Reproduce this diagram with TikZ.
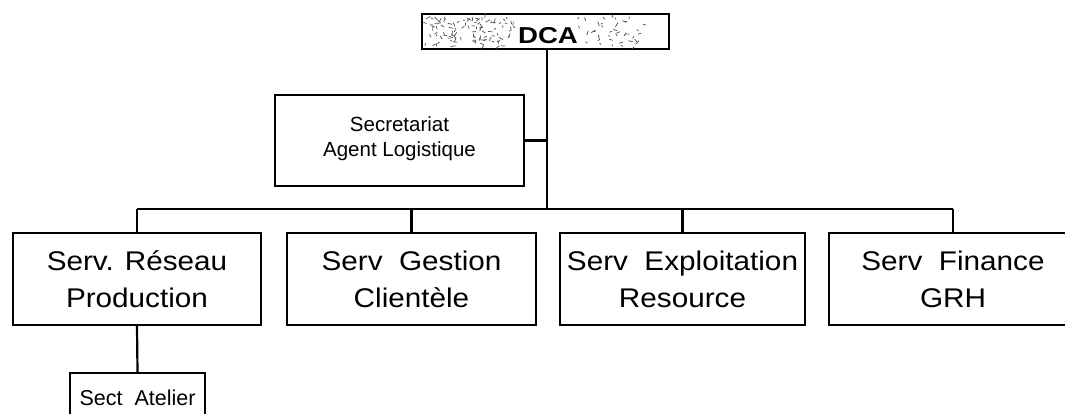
\documentclass[tikz,border=0pt]{standalone}
\usepackage{fontspec}
\setmainfont{Liberation Sans}
\newfontfamily\wideface[FakeStretch=1.1]{Liberation Sans}
\newfontfamily\headface[FakeStretch=1.2]{Liberation Sans}
\begin{document}
\begin{tikzpicture}[x=1pt,y=-1pt,
  unitbox/.style={draw=black, line width=2.2pt, inner sep=0pt, fill=white},
  bigtext/.style={font=\wideface\fontsize{27}{37}\selectfont, align=center},
  smalltext/.style={font=\fontsize{20.5}{25}\selectfont, align=center},
  link/.style={draw=black, line width=2.2pt}]
\useasboundingbox (0,0) rectangle (1065,414);
\clip (0,0) rectangle (1065,414);
\fill[white] (0,0) rectangle (1065,414);

% top management box with stippled fill
\node[unitbox, minimum width=247pt, minimum height=35pt] (dca) at (545.5,31.5) {};
\begin{scope}
  \clip (dca.south west) rectangle (dca.north east);
  \pgfmathsetseed{11}
  \foreach \i in {1,...,100}{
    \pgfmathsetmacro\px{426+88*rnd}
    \pgfmathsetmacro\py{17+30*rnd}
    \pgfmathsetmacro\pa{360*rnd}
    \pgfmathsetmacro\pl{2+3*rnd}
    \draw[line width=0.7pt, black!70] (\px,\py) -- ++(\pa:\pl);
  }
  \foreach \i in {1,...,40}{
    \pgfmathsetmacro\px{578+66*rnd}
    \pgfmathsetmacro\py{17+30*rnd}
    \pgfmathsetmacro\pa{360*rnd}
    \pgfmathsetmacro\pl{2+3*rnd}
    \draw[line width=0.7pt, black!70] (\px,\py) -- ++(\pa:\pl);
  }
\end{scope}
\node[font=\headface\bfseries\fontsize{23}{27}\selectfont, inner sep=0pt] (dcatxt) at (548,36) {DCA};

% staff box
\node[unitbox, minimum width=249pt, minimum height=91pt] (sec) at (399.5,140.5) {};
\node[smalltext, inner sep=0pt] (sectxt) at (399.5,139) {Secretariat\\Agent Logistique};

% service boxes
\node[unitbox, minimum width=248pt, minimum height=92pt, bigtext] (s1) at (137,279) {Serv. Réseau\\Production};
\node[unitbox, minimum width=249pt, minimum height=92pt, bigtext] (s2) at (411.5,279) {Serv\ \ Gestion\\Clientèle};
\node[unitbox, minimum width=245pt, minimum height=92pt, bigtext] (s3) at (682.5,279) {Serv\ \ Exploitation\\Resource};
\node[unitbox, minimum width=248pt, minimum height=92pt, bigtext] (s4) at (953,279) {Serv\ \ Finance\\GRH};

% section box
\node[unitbox, minimum width=135pt, minimum height=50pt, font=\fontsize{21.5}{25}\selectfont] (sa) at (137.5,398) {Sect\ \ Atelier};

% connectors
\coordinate (trunk) at (547,209);
\coordinate (busL) at (137,209);
\coordinate (busR) at (953,209);
\draw[link] (dca.south -| trunk) -- (trunk);
\draw[link] (sec.east) -- (sec.east -| trunk);
\draw[link] (busL) -- (busR);
\draw[link] (busL) -- (s1.north);
\draw[link] (s2.north |- trunk) -- (s2.north);
\draw[link] (s3.north |- trunk) -- (s3.north);
\draw[link] (busR) -- (s4.north);
\draw[link] (s1.south) -- (sa.north);
\end{tikzpicture}
\end{document}
